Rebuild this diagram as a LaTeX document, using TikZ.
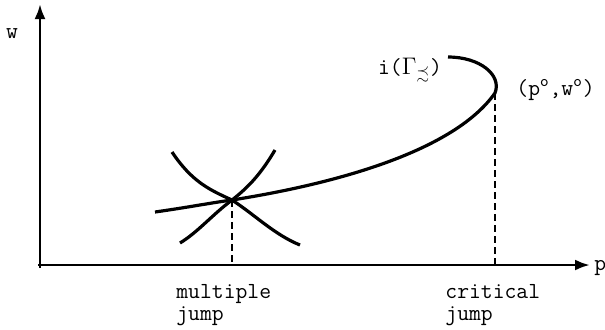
\documentclass[tikz,border=0pt]{standalone}
\usepackage{amsmath,amssymb}
\usetikzlibrary{arrows.meta}

\begin{document}
\begin{tikzpicture}[
  x=0.5pt, y=-0.5pt,
  axis/.style={line width=1.4pt, -{Latex[length=7.5pt,width=5.5pt]}},
  curve/.style={line width=1.6pt},
  jump/.style={line width=1.2pt, dash pattern=on 3.5pt off 2pt},
  lbl/.style={font=\fontsize{11.5}{11}\selectfont\ttfamily, inner sep=0pt, align=left}
]
\useasboundingbox (0,0) rectangle (605,329);

% axes
\coordinate (origin) at (40,265);
\coordinate (wtop) at (40,4);
\coordinate (pend) at (590,265);
\draw[axis] (40,268) -- (wtop);
\draw[axis] (38,265) -- (pend);
\node[lbl] (wlabel) at (12,34) {w};
\node[lbl, anchor=west] (plabel) at (594,268) {p};

% key points
\coordinate (cross) at (232,200);
\coordinate (crit) at (495,93);
\coordinate (crossfoot) at (232,265);
\coordinate (critfoot) at (495,265);

% the curve i(Gamma)
\draw[curve] (155,212) .. controls (190,207) and (210,203) .. (cross)
  .. controls (340,183) and (455,150) .. (crit)
  .. controls (502,75) and (480,57) .. (448,57);

% crossing curves
\draw[curve] (172,152) .. controls (192,182) and (210,190) .. (cross)
  .. controls (255,215) and (275,235) .. (300,245);
\draw[curve] (275,150) .. controls (262,172) and (250,186) .. (cross)
  .. controls (212,215) and (198,232) .. (180,243);

% jumps
\draw[jump] (cross) -- (crossfoot);
\draw[jump] (crit) -- (critfoot);

% labels
\node[lbl] (gammalabel) at (410,70) {i($\Gamma_{\precsim}$)};
\node[lbl, anchor=west] (critpoint) at (516,90) {(p\textsuperscript{o},w\textsuperscript{o})};
\node[lbl, anchor=north west] (multiple) at (176,284) {multiple\\jump};
\node[lbl, anchor=north west] (critical) at (445,284) {critical\\jump};
\end{tikzpicture}
\end{document}
